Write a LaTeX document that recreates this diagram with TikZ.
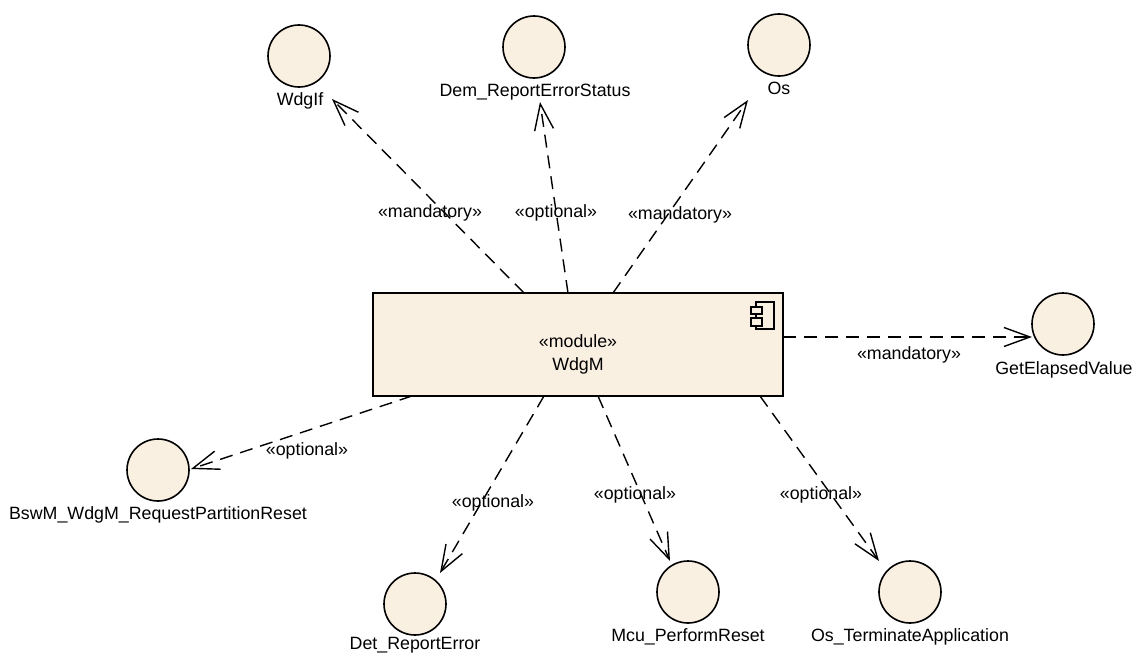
\documentclass[tikz,border=0pt]{standalone}
\usepackage{fontspec}
\setmainfont{Liberation Sans}
\usetikzlibrary{arrows.meta}
\definecolor{beige}{RGB}{250,240,226}
\begin{document}
\begin{tikzpicture}[x=1pt,y=-1pt,
  iface/.style={circle,draw,line width=1.6pt,fill=beige,minimum size=62pt,inner sep=0pt},
  lbl/.style={font=\fontsize{17.8}{20}\selectfont,inner sep=0pt,anchor=base},
  dep/.style={line width=1.4pt,dash pattern=on 13pt off 8pt,
    -{Straight Barb[length=26pt,width=19pt,line width=1.4pt]}},
  comp/.style={draw,line width=2pt,fill=beige,minimum width=410pt,minimum height=103pt,inner sep=0pt},
  icon/.style={draw,line width=1.5pt,fill=beige}]
\useasboundingbox (0,0) rectangle (1136,653);
% main component
\node[comp] (wdgm) at (578,344.5) {};
\node[lbl,align=center,anchor=center,font=\fontsize{17.8}{23}\selectfont] (wdgmtxt) at (578,354) {«module»\\WdgM};
\draw[icon] (756,302) rectangle (774,329);
\draw[icon] (751,307) rectangle (762,314);
\draw[icon] (751,318) rectangle (762,326);
% interfaces
\node[iface] (wdgif) at (299,56) {};
\node[lbl] (wdgifl) at (300,105) {WdgIf};
\node[iface] (dem) at (534,47) {};
\node[lbl] (deml) at (535,96) {Dem\_ReportErrorStatus};
\node[iface] (os) at (779,45) {};
\node[lbl] (osl) at (779,94) {Os};
\node[iface] (gev) at (1063,324) {};
\node[lbl] (gevl) at (1064,374) {GetElapsedValue};
\node[iface] (bswm) at (158,470) {};
\node[lbl] (bswml) at (158,519) {BswM\_WdgM\_RequestPartitionReset};
\node[iface] (det) at (415,604) {};
\node[lbl] (detl) at (415,649) {Det\_ReportError};
\node[iface] (mcu) at (688,592) {};
\node[lbl] (mcul) at (688,641) {Mcu\_PerformReset};
\node[iface] (ost) at (910,592) {};
\node[lbl] (ostl) at (910,641) {Os\_TerminateApplication};
% connector end points
\coordinate (s1) at (524,293); \coordinate (t1) at (332,99);
\coordinate (s2) at (568,293); \coordinate (t2) at (540,102);
\coordinate (s3) at (613,293); \coordinate (t3) at (748,100);
\coordinate (s4) at (783,337); \coordinate (t4) at (1032,337);
\coordinate (s5) at (412,396); \coordinate (t5) at (191,469);
\coordinate (s6) at (544,396); \coordinate (t6) at (440,573);
\coordinate (s7) at (598,396); \coordinate (t7) at (670,561);
\coordinate (s8) at (760,396); \coordinate (t8) at (879,561);
\draw[dep] (s1) -- (t1);
\draw[dep] (s2) -- (t2);
\draw[dep] (s3) -- (t3);
\draw[dep] (s4) -- (t4);
\draw[dep] (s5) -- (t5);
\draw[dep] (s6) -- (t6);
\draw[dep] (s7) -- (t7);
\draw[dep] (s8) -- (t8);
% stereotype labels
\node[lbl] (l1) at (430,217) {«mandatory»};
\node[lbl] (l2) at (556,217) {«optional»};
\node[lbl] (l3) at (680,219) {«mandatory»};
\node[lbl] (l4) at (909,359) {«mandatory»};
\node[lbl] (l5) at (307,455) {«optional»};
\node[lbl] (l6) at (493,507) {«optional»};
\node[lbl] (l7) at (635,499) {«optional»};
\node[lbl] (l8) at (821,499) {«optional»};
\end{tikzpicture}
\end{document}
